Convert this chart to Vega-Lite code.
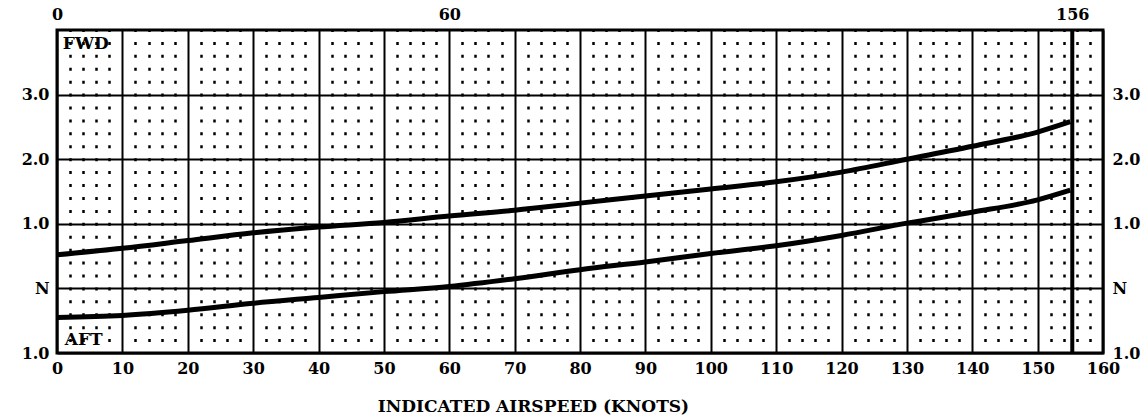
{
  "$schema": "https://vega.github.io/schema/vega-lite/v6.json",
  "width": 1046,
  "height": 323,
  "autosize": {"type": "none"},
  "padding": {"left": 57, "top": 30, "right": 43, "bottom": 64},
  "background": "white",
  "config": {
    "view": {"stroke": "black", "strokeWidth": 3},
    "font": "DejaVu Serif",
    "axis": {"labelFont": "DejaVu Serif", "labelFontWeight": "bold", "labelFontSize": 16, "labelColor": "black", "titleColor": "black"}
  },
  "datasets": {
    "curves": [
      {"speed": 0, "value": 0.52, "series": "FWD"},
      {"speed": 10, "value": 0.62, "series": "FWD"},
      {"speed": 20, "value": 0.74, "series": "FWD"},
      {"speed": 30, "value": 0.86, "series": "FWD"},
      {"speed": 40, "value": 0.95, "series": "FWD"},
      {"speed": 50, "value": 1.02, "series": "FWD"},
      {"speed": 60, "value": 1.12, "series": "FWD"},
      {"speed": 70, "value": 1.21, "series": "FWD"},
      {"speed": 80, "value": 1.32, "series": "FWD"},
      {"speed": 90, "value": 1.43, "series": "FWD"},
      {"speed": 100, "value": 1.54, "series": "FWD"},
      {"speed": 110, "value": 1.65, "series": "FWD"},
      {"speed": 120, "value": 1.8, "series": "FWD"},
      {"speed": 130, "value": 2.0, "series": "FWD"},
      {"speed": 140, "value": 2.2, "series": "FWD"},
      {"speed": 150, "value": 2.42, "series": "FWD"},
      {"speed": 155, "value": 2.58, "series": "FWD"},
      {"speed": 0, "value": -0.45, "series": "AFT"},
      {"speed": 10, "value": -0.42, "series": "AFT"},
      {"speed": 20, "value": -0.34, "series": "AFT"},
      {"speed": 30, "value": -0.23, "series": "AFT"},
      {"speed": 40, "value": -0.14, "series": "AFT"},
      {"speed": 50, "value": -0.05, "series": "AFT"},
      {"speed": 60, "value": 0.03, "series": "AFT"},
      {"speed": 70, "value": 0.15, "series": "AFT"},
      {"speed": 80, "value": 0.29, "series": "AFT"},
      {"speed": 90, "value": 0.41, "series": "AFT"},
      {"speed": 100, "value": 0.54, "series": "AFT"},
      {"speed": 110, "value": 0.66, "series": "AFT"},
      {"speed": 120, "value": 0.82, "series": "AFT"},
      {"speed": 130, "value": 1.01, "series": "AFT"},
      {"speed": 140, "value": 1.18, "series": "AFT"},
      {"speed": 150, "value": 1.37, "series": "AFT"},
      {"speed": 155, "value": 1.52, "series": "AFT"}
    ],
    "marker": [{"speed": 155.3}],
    "labels": [
      {"speed": 4.4, "value": 3.79, "text": "FWD"},
      {"speed": 4.1, "value": -0.8, "text": "AFT"}
    ]
  },
  "layer": [
    {
      "data": {"name": "curves"},
      "mark": {"type": "line", "color": "black", "strokeWidth": 5, "interpolate": "monotone"},
      "encoding": {
        "x": {
          "field": "speed", "type": "quantitative",
          "scale": {"domain": [0, 160], "nice": false, "zero": false},
          "axis": {
            "orient": "bottom",
            "values": [0, 10, 20, 30, 40, 50, 60, 70, 80, 90, 100, 110, 120, 130, 140, 150, 160],
            "grid": true, "gridColor": "black", "gridWidth": 2, "gridOpacity": 1,
            "ticks": false, "domain": false, "labelPadding": 7, "labelFlush": false,
            "title": "INDICATED AIRSPEED (KNOTS)",
            "titleFont": "DejaVu Serif", "titleFontWeight": "bold", "titleFontSize": 17,
            "titleX": 476, "titleY": 53, "titleAlign": "center", "titleBaseline": "middle"
          }
        },
        "y": {
          "field": "value", "type": "quantitative",
          "scale": {"domain": [-1, 4], "nice": false, "zero": false},
          "axis": {
            "orient": "left",
            "values": [-1, 0, 1, 2, 3],
            "labelExpr": "datum.value == 0 ? 'N' : format(abs(datum.value), '.1f')",
            "grid": true, "gridColor": "black", "gridWidth": 2, "gridOpacity": 1,
            "ticks": false, "domain": false, "labelPadding": 8, "labelFlush": false,
            "title": null
          }
        },
        "detail": {"field": "series"}
      }
    },
    {
      "data": {"name": "marker"},
      "mark": {"type": "rule", "color": "black", "strokeWidth": 4},
      "encoding": {
        "x": {
          "field": "speed", "type": "quantitative",
          "scale": {"domain": [0, 160], "nice": false, "zero": false},
          "axis": {
            "orient": "top",
            "values": [0, 60, 155.3],
            "labelExpr": "datum.value > 100 ? '156' : datum.label",
            "grid": false, "ticks": false, "domain": false, "labelPadding": 8, "labelFlush": false,
            "title": null
          }
        },
        "y": {
          "datum": -1, "type": "quantitative",
          "scale": {"domain": [-1, 4], "nice": false, "zero": false},
          "axis": {
            "orient": "right",
            "values": [-1, 0, 1, 2, 3],
            "labelExpr": "datum.value == 0 ? 'N' : format(abs(datum.value), '.1f')",
            "grid": false, "ticks": false, "domain": false, "labelPadding": 9, "labelFlush": false,
            "title": null
          }
        },
        "y2": {"datum": 4}
      }
    },
    {
      "data": {"name": "labels"},
      "mark": {"type": "text", "font": "DejaVu Serif", "fontWeight": "bold", "fontSize": 17, "color": "black", "align": "center", "baseline": "middle"},
      "encoding": {
        "x": {
          "field": "speed", "type": "quantitative",
          "scale": {"domain": [0, 160], "nice": false, "zero": false},
          "axis": {
            "orient": "bottom",
            "values": [2, 4, 6, 8, 12, 14, 16, 18, 22, 24, 26, 28, 32, 34, 36, 38, 42, 44, 46, 48, 52, 54, 56, 58, 62, 64, 66, 68, 72, 74, 76, 78, 82, 84, 86, 88, 92, 94, 96, 98, 102, 104, 106, 108, 112, 114, 116, 118, 122, 124, 126, 128, 132, 134, 136, 138, 142, 144, 146, 148, 152, 154, 156, 158],
            "grid": true, "gridColor": "black", "gridWidth": 2.5, "gridOpacity": 1,
            "gridDash": [3, 9.92], "gridDashOffset": 1.5,
            "labels": false, "ticks": false, "domain": false, "title": null
          }
        },
        "y": {
          "field": "value", "type": "quantitative",
          "scale": {"domain": [-1, 4], "nice": false, "zero": false},
          "axis": null
        },
        "text": {"field": "text"}
      }
    }
  ],
  "resolve": {"axis": {"x": "independent", "y": "independent"}}
}
